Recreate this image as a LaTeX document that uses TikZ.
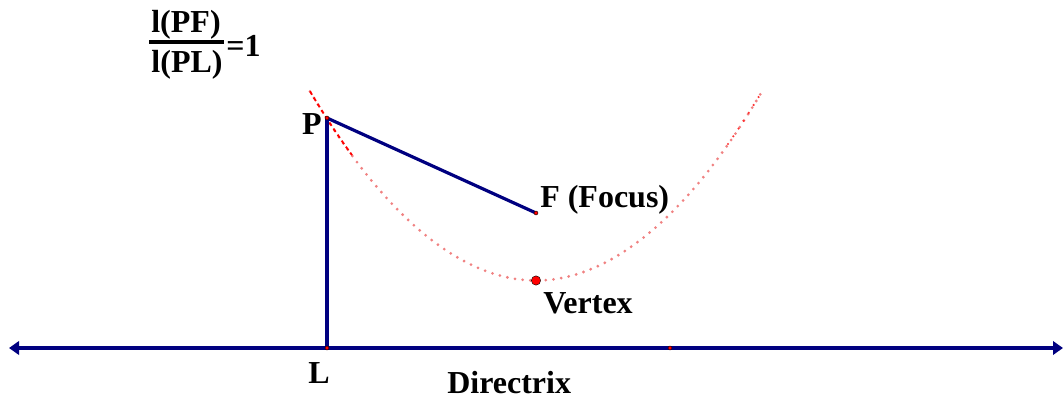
\documentclass[tikz,border=0pt]{standalone}
\usepackage{fontspec}
\setmainfont{Liberation Serif}
\usepackage{tikz}
\usepackage{xcolor}
\usetikzlibrary{arrows.meta}
\definecolor{navy}{RGB}{0,0,128}
\definecolor{pink}{RGB}{240,130,130}

\begin{document}
\begin{tikzpicture}[
    x=0.75pt, y=-0.75pt,
    lbl/.style={font=\fontsize{24}{28}\selectfont\bfseries, inner sep=0pt},
    seg/.style={draw=navy, line width=2.4pt},
    arr/.style={{Triangle[length=7.5pt, width=10pt]}-{Triangle[length=7.5pt, width=10pt]}},
    curve/.style={draw=pink, line width=2.3pt, line cap=round, dash pattern=on 0pt off 5.8pt},
    pt/.style={circle, fill=red, draw=black, line width=0.3pt, inner sep=0pt, minimum size=3pt}
  ]
    \useasboundingbox (0,0) rectangle (1063,399);

    % points of the figure
    \coordinate (P) at (327,118);
    \coordinate (L) at (327,348);
    \coordinate (F) at (536,213);
    \coordinate (V) at (536,280.5);
    \coordinate (M) at (670,348);
    \coordinate (dirL) at (9,348);
    \coordinate (dirR) at (1063,348);

    % parabola
    \draw[curve] (310,91.3) parabola bend (V) (763,89.7);
    \draw[red, line width=1.4pt, dash pattern=on 3pt off 2.5pt]
      plot[domain=310:352, samples=20] (\x, {280.5-((\x-536)/16.4317)^2});
    \draw[red!80, line width=1.8pt, line cap=round, dash pattern=on 0pt off 7pt]
      plot[domain=728:763, samples=15] (\x, {280.5-((\x-536)/16.4317)^2});

    % segments and directrix
    \draw[seg, arr] (dirL) -- (dirR);
    \draw[seg] (P) -- (L);
    \draw[seg] (P) -- (F);

    \node[pt] (dotP) at (P) {};
    \node[pt] (dotL) at (L) {};
    \node[pt] (dotF) at (F) {};
    \node[pt] (dotM) at (M) {};
    \node[pt, minimum size=7pt] (dotV) at (V) {};

    % labels
    \node[lbl, anchor=base east] (labP) at (322,135) {P};
    \node[lbl, anchor=base west] (labF) at (540,207) {F (Focus)};
    \node[lbl, anchor=base west] (labV) at (543,313) {Vertex};
    \node[lbl, anchor=base west] (labL) at (308,383) {L};
    \node[lbl, anchor=base west] (labD) at (447,393) {Directrix};

    % ratio
    \node[lbl, anchor=base] (num) at (186,33) {l(PF)};
    \node[lbl, anchor=base] (den) at (187,73) {l(PL)};
    \node[lbl, anchor=base west] (eq) at (226,57) {=1};
    \draw[line width=2.4pt] (149,42) -- (224,42);
\end{tikzpicture}
\end{document}
